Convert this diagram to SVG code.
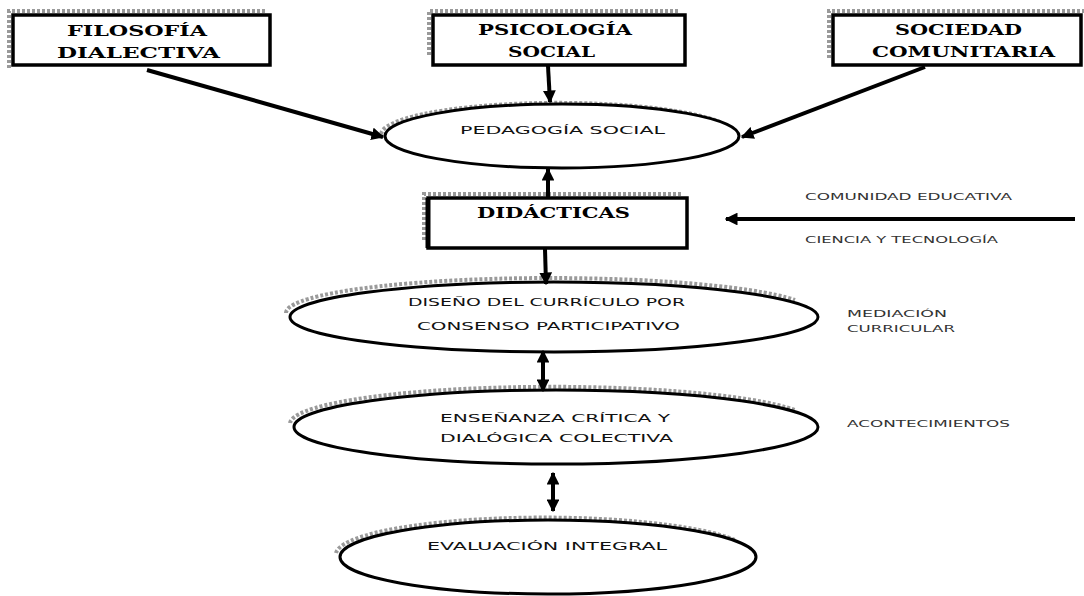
<svg xmlns="http://www.w3.org/2000/svg" width="1084" height="596" viewBox="0 0 1084 596">
<style>
.box{fill:#fff;stroke:#000;stroke-width:3.5}
.shadow{fill:none;stroke:#9a9a9a;stroke-width:4;stroke-dasharray:3 2}
.ell{fill:#fff;stroke:#000;stroke-width:3}
.bt{font-family:"DejaVu Serif","Liberation Serif",serif;font-weight:bold;font-size:14px;fill:#000;text-anchor:start}
.et{font-family:"DejaVu Sans","Liberation Sans",sans-serif;font-size:11px;fill:#111}
.lt{font-family:"DejaVu Sans","Liberation Sans",sans-serif;font-size:8.5px;fill:#333}
.ln{fill:none;stroke:#000;stroke-width:4}
</style>
<defs>
<marker id="ah" viewBox="0 0 10 10" refX="9" refY="5" markerWidth="3.2" markerHeight="3.2" orient="auto-start-reverse" markerUnits="strokeWidth">
<path d="M0,0 L10,5 L0,10 z" fill="#000"/>
</marker>
</defs>

<g id="filosofia">
<path class="shadow" d="M9,68 V11 H266"/>
<rect class="box" x="13" y="15" width="257" height="50"/>
<text class="bt" x="67" y="36" textLength="140" lengthAdjust="spacingAndGlyphs">FILOSOFÍA</text>
<text class="bt" x="57" y="58" textLength="163" lengthAdjust="spacingAndGlyphs">DIALECTIVA</text>
</g>

<g id="psicologia">
<path class="shadow" d="M429,55 V11 H680"/>
<rect class="box" x="433" y="15" width="252" height="50"/>
<text class="bt" x="478" y="35" textLength="154" lengthAdjust="spacingAndGlyphs">PSICOLOGÍA</text>
<text class="bt" x="508" y="57" textLength="87" lengthAdjust="spacingAndGlyphs">SOCIAL</text>
</g>

<g id="sociedad">
<path class="shadow" d="M829,58 V11 H1084"/>
<rect class="box" x="833" y="15" width="248" height="50"/>
<text class="bt" x="895" y="35" textLength="127" lengthAdjust="spacingAndGlyphs">SOCIEDAD</text>
<text class="bt" x="872" y="57" textLength="183" lengthAdjust="spacingAndGlyphs">COMUNITARIA</text>
</g>

<g id="pedagogia">
<path class="shadow" d="M381,134 A177 32 0 0 1 720,122"/>
<ellipse class="ell" cx="562" cy="136" rx="177" ry="32"/>
<text class="et" x="460" y="134" textLength="205" lengthAdjust="spacingAndGlyphs">PEDAGOGÍA SOCIAL</text>
</g>

<g id="didacticas">
<path class="shadow" d="M424,240 V194 H682"/>
<rect class="box" x="428" y="198" width="259" height="50"/>
<path d="M428,198 V248" stroke="#000" stroke-width="5"/>
<text class="bt" x="477" y="218" textLength="153" lengthAdjust="spacingAndGlyphs">DIDÁCTICAS</text>
</g>

<g id="diseno">
<path class="shadow" d="M286,313 A264 35 0 0 1 795,300"/>
<ellipse class="ell" cx="554" cy="317" rx="264" ry="35"/>
<text class="et" x="408" y="306" textLength="277" lengthAdjust="spacingAndGlyphs">DISEÑO DEL CURRÍCULO POR</text>
<text class="et" x="417" y="330" textLength="263" lengthAdjust="spacingAndGlyphs">CONSENSO PARTICIPATIVO</text>
</g>

<g id="ensenanza">
<path class="shadow" d="M290,423 A262 37 0 0 1 795,410"/>
<ellipse class="ell" cx="556" cy="427" rx="262" ry="37"/>
<text class="et" x="440" y="422" textLength="230" lengthAdjust="spacingAndGlyphs">ENSEÑANZA CRÍTICA Y</text>
<text class="et" x="440" y="442" textLength="233" lengthAdjust="spacingAndGlyphs">DIALÓGICA COLECTIVA</text>
</g>

<g id="evaluacion">
<path class="shadow" d="M336,553 A208 37 0 0 1 735,540"/>
<ellipse class="ell" cx="548" cy="557" rx="208" ry="37"/>
<text class="et" x="427" y="550" textLength="240" lengthAdjust="spacingAndGlyphs">EVALUACIÓN INTEGRAL</text>
</g>

<g id="labels">
<text class="lt" x="805" y="200" textLength="207" lengthAdjust="spacingAndGlyphs">COMUNIDAD EDUCATIVA</text>
<text class="lt" x="805" y="243" textLength="193" lengthAdjust="spacingAndGlyphs">CIENCIA Y TECNOLOGÍA</text>
<text class="lt" x="847" y="317" textLength="100" lengthAdjust="spacingAndGlyphs">MEDIACIÓN</text>
<text class="lt" x="847" y="332" textLength="108" lengthAdjust="spacingAndGlyphs">CURRICULAR</text>
<text class="lt" x="847" y="427" textLength="163" lengthAdjust="spacingAndGlyphs">ACONTECIMIENTOS</text>
</g>

<g id="connectors">
<line class="ln" x1="147" y1="70" x2="383" y2="137" marker-end="url(#ah)"/>
<line class="ln" x1="925" y1="67" x2="742" y2="137" marker-end="url(#ah)"/>
<line class="ln" x1="548" y1="66" x2="550" y2="102" marker-end="url(#ah)"/>
<line class="ln" x1="548" y1="197" x2="548" y2="169" marker-end="url(#ah)"/>
<line class="ln" x1="1075" y1="219" x2="726" y2="219" marker-end="url(#ah)"/>
<line class="ln" x1="545" y1="249" x2="546" y2="284" marker-end="url(#ah)"/>
<line class="ln" x1="543" y1="351" x2="543" y2="391" marker-start="url(#ah)" marker-end="url(#ah)"/>
<line class="ln" x1="553" y1="473" x2="553" y2="511" marker-start="url(#ah)" marker-end="url(#ah)"/>
</g>
</svg>
